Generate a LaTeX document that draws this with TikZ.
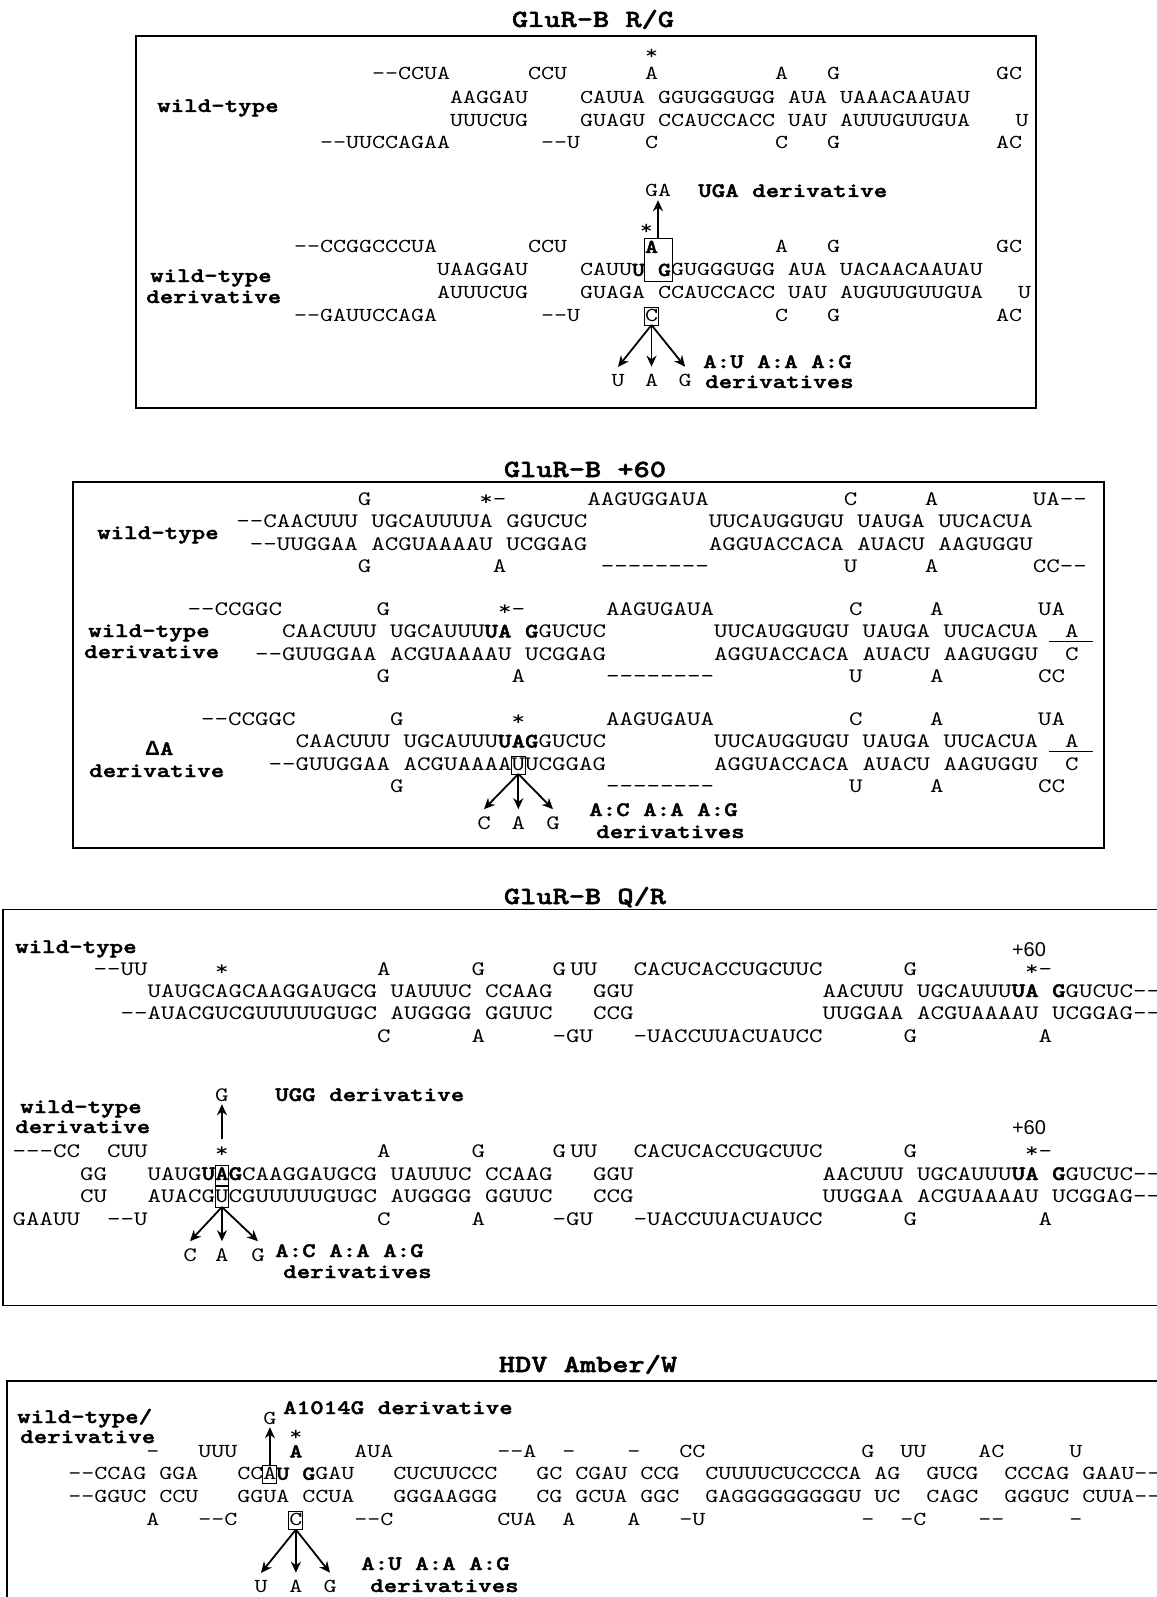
\documentclass[tikz,border=0pt]{standalone}
\usepackage{fontspec}
\usetikzlibrary{arrows.meta}
\newfontfamily\seqf{lmmono10-regular.otf}[FakeStretch=1.25, BoldFont=lmmonolt10-bold.otf, BoldFeatures={FakeBold=2}, Ligatures=TeXOff]
\newfontfamily\sansf{Liberation Sans}
\newcounter{tn}
\newcommand\sqC[3]{\stepcounter{tn}\node[cur] (t\arabic{tn}) at ({\colX+\colP*(#1)},#2) {#3};}
\newcommand\lblT[3]{\stepcounter{tn}\node[lbl] (t\arabic{tn}) at (#1,#2) {#3};}
\begin{document}
\begin{tikzpicture}[x=1pt,y=-1pt,
 sqa/.style={font=\seqf\fontsize{19.81}{24}\selectfont, anchor=base west, inner sep=0pt, outer sep=0pt},
 sqb/.style={font=\seqf\fontsize{20.57}{25}\selectfont, anchor=base west, inner sep=0pt, outer sep=0pt},
 lbl/.style={font=\seqf\bfseries\fontsize{20.57}{25}\selectfont, anchor=base west, inner sep=0pt},
 ttl/.style={font=\seqf\bfseries\fontsize{24.7}{28}\selectfont, anchor=base, inner sep=0pt},
 pl/.style={font=\sansf\fontsize{20}{24}\selectfont, anchor=base, inner sep=0pt},
 frame/.style={line width=1.5pt},
 bx/.style={line width=1pt},
 boxed/.style={draw, line width=1pt, text height=13pt, text depth=3pt, inner xsep=0.5pt, inner ysep=1pt, anchor=base},
 arr/.style={line width=1.8pt, -{Stealth[length=11pt,width=10pt]}},
 cur/.style={sqa}]
\useasboundingbox (0,0) rectangle (1156,1597);
\fill[white] (0,0) rectangle (1156,1597);

% ================= Panel 1: GluR-B R/G =================
\node[ttl] (title1) at (593,27) {GluR-B R/G};
\draw[frame] (136,36) rectangle (1036,408);
\def\colX{450}\def\colP{13}
\tikzset{cur/.style={sqa}}
\lblT{157}{112}{wild-type}
\sqC{15}{60}{*}
\sqC{-6}{79.5}{--CCUA}
\sqC{6}{79.5}{CCU}
\sqC{15}{79.5}{A}
\sqC{25}{79.5}{A}
\sqC{29}{79.5}{G}
\sqC{42}{79.5}{GC}
\sqC{0}{104}{AAGGAU}
\sqC{10}{104}{CAUUA~GGUGGGUGG~AUA~UAAACAAUAU}
\sqC{0}{126.5}{UUUCUG}
\sqC{10}{126.5}{GUAGU~CCAUCCACC~UAU~AUUUGUUGUA}
\sqC{43.5}{126.5}{U}
\sqC{-10}{149}{--UUCCAGAA}
\sqC{7}{149}{--U}
\sqC{15}{149}{C}
\sqC{25}{149}{C}
\sqC{29}{149}{G}
\sqC{42}{149}{AC}
% derivative
\node[cur, anchor=base] (p1GA) at ({\colX+\colP*16},197) {GA};
\lblT{698}{197}{UGA derivative}
\sqC{14.6}{235}{*}
\lblT{150}{282}{wild-type}
\lblT{146}{303}{derivative}
\sqC{-12}{253}{--CCGGCCCUA}
\sqC{6}{253}{CCU}
\sqC{15}{253}{\bfseries A}
\sqC{25}{253}{A}
\sqC{29}{253}{G}
\sqC{42}{253}{GC}
\sqC{-1}{276}{UAAGGAU}
\sqC{10}{276}{CAUU{\bfseries U}~{\bfseries G}GUGGGUGG~AUA~UACAACAAUAU}
\sqC{-1}{298}{AUUUCUG}
\sqC{10}{298}{GUAGA~CCAUCCACC~UAU~AUGUUGUUGUA}
\sqC{43.7}{298}{U}
\sqC{-12}{321}{--GAUUCCAGA}
\sqC{7}{321}{--U}
\node[cur, boxed] (p1C) at ({\colX+\colP*15.5},321) {C};
\sqC{25}{321}{C}
\sqC{29}{321}{G}
\sqC{42}{321}{AC}
\draw[bx] ({\colX+\colP*15-1},239) rectangle ({\colX+\colP*17+1},281);
\coordinate (p1top) at ({\colX+\colP*16},239);
\draw[arr] (p1top) -- ([yshift=-3pt]p1GA.south);
\node[cur, anchor=base] (p1u) at (618,386) {U};
\node[cur, anchor=base] (p1a) at ({\colX+\colP*15.5},386) {A};
\node[cur, anchor=base] (p1g) at (685,386) {G};
\draw[arr] (p1C.south) -- ([yshift=7pt]p1u.north);
\draw[arr] (p1C.south) -- ([yshift=7pt]p1a.north);
\draw[arr] (p1C.south) -- ([yshift=7pt]p1g.north);
\lblT{703}{368}{A:U A:A A:G}
\lblT{705}{388}{derivatives}

% ================= Panel 2: GluR-B +60 =================
\node[ttl] (title2) at (585,477) {GluR-B +60};
\draw[frame] (73,482) rectangle (1104,848);
\def\colP{13.5}
\tikzset{cur/.style={sqb}}
\def\colX{236.3}
\lblT{97}{539}{wild-type}
\sqC{9}{505}{G}
\sqC{18}{505}{*-}
\sqC{26}{505}{AAGUGGAUA}
\sqC{45}{505}{C}
\sqC{51}{505}{A}
\sqC{59}{505}{UA--}
\sqC{0}{527.5}{--CAACUUU~UGCAUUUUA~GGUCUC}
\sqC{35}{527.5}{UUCAUGGUGU~UAUGA~UUCACUA}
\sqC{1}{550}{--UUGGAA~ACGUAAAAU~UCGGAG}
\sqC{35}{550}{AGGUACCACA~AUACU~AAGUGGU}
\sqC{9}{572}{G}
\sqC{19}{572}{A}
\sqC{27}{572}{--------}
\sqC{45}{572}{U}
\sqC{51}{572}{A}
\sqC{59}{572}{CC--}
% wild-type derivative
\def\colX{255.1}
\lblT{88}{637}{wild-type}
\lblT{84}{658}{derivative}
\sqC{-5}{615}{--CCGGC}
\sqC{9}{615}{G}
\sqC{18}{615}{*-}
\sqC{26}{615}{AAGUGAUA}
\sqC{44}{615}{C}
\sqC{50}{615}{A}
\sqC{58}{615}{UA}
\sqC{2}{637.5}{CAACUUU~UGCAUUU{\bfseries UA}~{\bfseries G}GUCUC}
\sqC{34}{637.5}{UUCAUGGUGU~UAUGA~UUCACUA}
\sqC{60}{637.5}{A}
\draw[bx] (1049,641.5) -- (1093,641.5);
\sqC{0}{660}{--GUUGGAA~ACGUAAAAU~UCGGAG}
\sqC{34}{660}{AGGUACCACA~AUACU~AAGUGGU}
\sqC{60}{660}{C}
\sqC{9}{682}{G}
\sqC{19}{682}{A}
\sqC{26}{682}{--------}
\sqC{44}{682}{U}
\sqC{50}{682}{A}
\sqC{58}{682}{CC}
% delta A derivative
\lblT{145}{755}{{\sansf\bfseries Δ}A}
\lblT{89}{777}{derivative}
\sqC{-4}{725}{--CCGGC}
\sqC{10}{725}{G}
\sqC{19}{725}{*}
\sqC{26}{725}{AAGUGAUA}
\sqC{44}{725}{C}
\sqC{50}{725}{A}
\sqC{58}{725}{UA}
\sqC{3}{747.5}{CAACUUU~UGCAUUU{\bfseries UAG}GUCUC}
\sqC{34}{747.5}{UUCAUGGUGU~UAUGA~UUCACUA}
\sqC{60}{747.5}{A}
\draw[bx] (1049,751.5) -- (1093,751.5);
\sqC{1}{770}{--GUUGGAA~ACGUAAAA}
\node[cur, boxed] (p2U) at ({\colX+\colP*19.5},770) {U};
\sqC{20}{770}{UCGGAG}
\sqC{34}{770}{AGGUACCACA~AUACU~AAGUGGU}
\sqC{60}{770}{C}
\sqC{10}{792}{G}
\sqC{26}{792}{--------}
\sqC{44}{792}{U}
\sqC{50}{792}{A}
\sqC{58}{792}{CC}
\node[cur, anchor=base] (p2c) at (484,829) {C};
\node[cur, anchor=base] (p2a) at ({\colX+\colP*19.5},829) {A};
\node[cur, anchor=base] (p2g) at (553,829) {G};
\draw[arr] (p2U.south) -- ([yshift=7pt]p2c.north);
\draw[arr] (p2U.south) -- ([yshift=7pt]p2a.north);
\draw[arr] (p2U.south) -- ([yshift=7pt]p2g.north);
\lblT{589}{816}{A:C A:A A:G}
\lblT{596}{838}{derivatives}

% ================= Panel 3: GluR-B Q/R =================
\node[ttl] (title3) at (585,904) {GluR-B Q/R};
\draw[frame] (1160,909.5) -- (3,909.5) -- (3,1305.7) -- (1160,1305.7);
\def\colX{147.7}
\lblT{15}{953}{wild-type}
\node[pl] (p60a) at (1029,956) {+60};
\sqC{-4}{975.6}{--UU}
\sqC{5}{975.6}{*}
\sqC{17}{975.6}{A}
\sqC{24}{975.6}{G}
\sqC{30}{975.6}{G}
\sqC{31.3}{975.6}{UU}
\sqC{36}{975.6}{CACUCACCUGCUUC}
\sqC{56}{975.6}{G}
\sqC{65}{975.6}{*-}
\sqC{0}{997}{UAUGCAGCAAGGAUGCG~UAUUUC~CCAAG}
\sqC{33}{997}{GGU}
\sqC{50}{997}{AACUUU~UGCAUUU{\bfseries UA}~{\bfseries G}GUCUC--}
\sqC{-2}{1019.4}{--AUACGUCGUUUUUGUGC~AUGGGG~GGUUC}
\sqC{33}{1019.4}{CCG}
\sqC{50}{1019.4}{UUGGAA~ACGUAAAAU~UCGGAG--}
\sqC{17}{1042.8}{C}
\sqC{24}{1042.8}{A}
\sqC{30}{1042.8}{-GU}
\sqC{36}{1042.8}{-UACCUUACUAUCC}
\sqC{56}{1042.8}{G}
\sqC{66}{1042.8}{A}
% derivative
\node[cur, anchor=base] (p3G) at ({\colX+\colP*5.5},1101) {G};
\lblT{275}{1101}{UGG derivative}
\lblT{20}{1113}{wild-type}
\lblT{15}{1133}{derivative}
\node[pl] (p60b) at (1029,1134) {+60};
\sqC{-10}{1157}{---CC}
\sqC{-3}{1157}{CUU}
\sqC{5}{1157}{*}
\sqC{17}{1157}{A}
\sqC{24}{1157}{G}
\sqC{30}{1157}{G}
\sqC{31.3}{1157}{UU}
\sqC{36}{1157}{CACUCACCUGCUUC}
\sqC{56}{1157}{G}
\sqC{65}{1157}{*-}
\sqC{-5}{1180}{GG}
\sqC{0}{1180}{UAUG{\bfseries UAG}CAAGGAUGCG~UAUUUC~CCAAG}
\sqC{33}{1180}{GGU}
\sqC{50}{1180}{AACUUU~UGCAUUU{\bfseries UA}~{\bfseries G}GUCUC--}
\sqC{-5}{1202.7}{CU}
\sqC{0}{1202.7}{AUACGUCGUUUUUGUGC~AUGGGG~GGUUC}
\sqC{33}{1202.7}{CCG}
\sqC{50}{1202.7}{UUGGAA~ACGUAAAAU~UCGGAG--}
\sqC{-10}{1225}{GAAUU}
\sqC{-3}{1225}{--U}
\sqC{17}{1225}{C}
\sqC{24}{1225}{A}
\sqC{30}{1225}{-GU}
\sqC{36}{1225}{-UACCUUACUAUCC}
\sqC{56}{1225}{G}
\sqC{66}{1225}{A}
\draw[bx] ({\colX+\colP*5},1165) rectangle ({\colX+\colP*6},1207);
\draw[line width=2pt] ({\colX+\colP*5},1185.5) -- ({\colX+\colP*6},1185.5);
\coordinate (p3top) at ({\colX+\colP*5.5},1139);
\coordinate (p3bot) at ({\colX+\colP*5.5},1207);
\draw[arr] (p3top) -- ([yshift=-3pt]p3G.south);
\node[cur, anchor=base] (p3c) at (190,1261) {C};
\node[cur, anchor=base] (p3a) at ({\colX+\colP*5.5},1261) {A};
\node[cur, anchor=base] (p3g) at (258,1261) {G};
\draw[arr] (p3bot) -- ([yshift=7pt]p3c.north);
\draw[arr] (p3bot) -- ([yshift=7pt]p3a.north);
\draw[arr] (p3bot) -- ([yshift=7pt]p3g.north);
\lblT{275}{1257}{A:C A:A A:G}
\lblT{283}{1278}{derivatives}

% ================= Panel 4: HDV Amber/W =================
\node[ttl] (title4) at (588,1372) {HDV Amber/W};
\draw[frame] (1160,1381) -- (7,1381) -- (7,1600);
\def\colX{68.4}\def\colP{13}
\tikzset{cur/.style={sqa}}
\lblT{17}{1423}{wild-type/}
\lblT{20}{1443}{derivative}
\node[cur, anchor=base] (p4G) at ({\colX+\colP*15.5},1424) {G};
\lblT{283}{1414}{A1014G derivative}
\sqC{17}{1440}{*}
\sqC{6}{1457.4}{-}
\sqC{10}{1457.4}{UUU}
\sqC{17}{1457.4}{\bfseries A}
\sqC{22}{1457.4}{AUA}
\sqC{33}{1457.4}{--A}
\sqC{38}{1457.4}{-}
\sqC{43}{1457.4}{-}
\sqC{47}{1457.4}{CC}
\sqC{61}{1457.4}{G}
\sqC{64}{1457.4}{UU}
\sqC{70}{1457.4}{AC}
\sqC{77}{1457.4}{U}
\sqC{0}{1479.8}{--CCAG~GGA}
\sqC{13}{1479.8}{CC}
\node[cur, boxed] (p4A) at ({\colX+\colP*15.5},1479.8) {A};
\sqC{16}{1479.8}{{\bfseries U}~{\bfseries G}GAU}
\sqC{25}{1479.8}{CUCUUCCC}
\sqC{36}{1479.8}{GC~CGAU~CCG}
\sqC{49}{1479.8}{CUUUUCUCCCCA~AG}
\sqC{66}{1479.8}{GUCG}
\sqC{72}{1479.8}{CCCAG~GAAU--}
\sqC{0}{1502.2}{--GGUC~CCU}
\sqC{13}{1502.2}{GGUA~CCUA}
\sqC{25}{1502.2}{GGGAAGGG}
\sqC{36}{1502.2}{CG~GCUA~GGC}
\sqC{49}{1502.2}{GAGGGGGGGGGU~UC}
\sqC{66}{1502.2}{CAGC}
\sqC{72}{1502.2}{GGGUC~CUUA--}
\sqC{6}{1525.6}{A}
\sqC{10}{1525.6}{--C}
\node[cur, boxed] (p4C) at ({\colX+\colP*17.5},1525.6) {C};
\sqC{22}{1525.6}{--C}
\sqC{33}{1525.6}{CUA}
\sqC{38}{1525.6}{A}
\sqC{43}{1525.6}{A}
\sqC{47}{1525.6}{-U}
\sqC{61}{1525.6}{-}
\sqC{64}{1525.6}{-C}
\sqC{70}{1525.6}{--}
\sqC{77}{1525.6}{-}
\draw[arr] (p4A.north) -- ([yshift=-3pt]p4G.south);
\node[cur, anchor=base] (p4u) at (261,1592) {U};
\node[cur, anchor=base] (p4a) at ({\colX+\colP*17.5},1592) {A};
\node[cur, anchor=base] (p4g) at (330,1592) {G};
\draw[arr] (p4C.south) -- ([yshift=7pt]p4u.north);
\draw[arr] (p4C.south) -- ([yshift=7pt]p4a.north);
\draw[arr] (p4C.south) -- ([yshift=7pt]p4g.north);
\lblT{361}{1570}{A:U A:A A:G}
\lblT{370}{1592}{derivatives}
\end{tikzpicture}
\end{document}
